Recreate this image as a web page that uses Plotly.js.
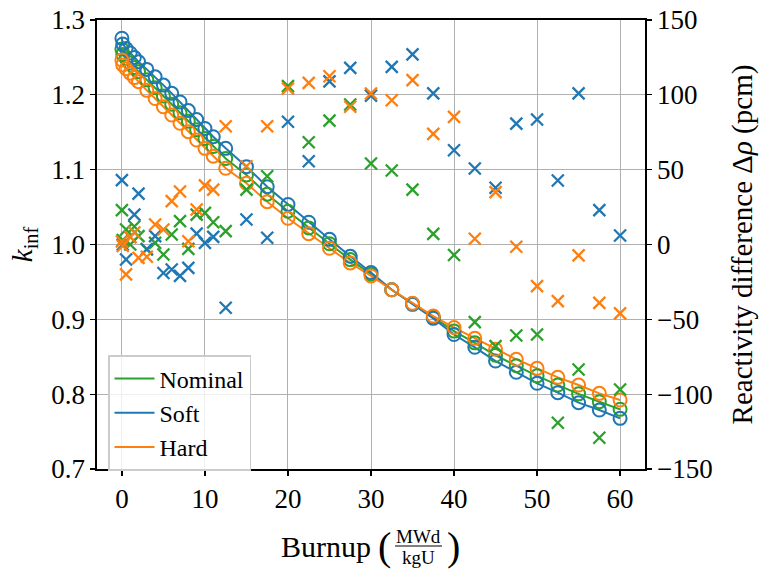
<!DOCTYPE html>
<html>
<head>
<meta charset="utf-8">
<script src="https://cdn.plot.ly/plotly-3.0.1.min.js"></script>
<style>html,body{margin:0;padding:0;background:#fff;}#plot{width:764px;height:569px;}</style>
</head>
<body>
<div id="plot"></div>
<script>
// ---- data ----
const burnup = [0, 0.1, 0.5, 1, 1.5, 2, 3, 4, 5, 6, 7, 8, 9, 10, 11, 12.5, 15, 17.5, 20, 22.5, 25, 27.5, 30, 32.5, 35, 37.5, 40, 42.5, 45, 47.5, 50, 52.5, 55, 57.5, 60];

const kNominal = [1.2612, 1.254, 1.2485, 1.2425, 1.2365, 1.231, 1.220, 1.2095, 1.1985, 1.1875, 1.176, 1.1648, 1.1533, 1.1418, 1.131, 1.115, 1.0929, 1.0672, 1.0445, 1.0222, 1.001, 0.9798, 0.9603, 0.9395, 0.9207, 0.9028, 0.8843, 0.8686, 0.852, 0.838, 0.8245, 0.8122, 0.8004, 0.7899, 0.7797];
const kSoft = [1.2757, 1.268, 1.262, 1.256, 1.250, 1.2443, 1.234, 1.224, 1.213, 1.202, 1.1905, 1.179, 1.167, 1.155, 1.144, 1.1285, 1.104, 1.0772, 1.0535, 1.0298, 1.0069, 0.9842, 0.9625, 0.9395, 0.920, 0.9013, 0.8797, 0.8626, 0.8443, 0.8292, 0.8145, 0.802, 0.7886, 0.7788, 0.7677];
const kHard = [1.2465, 1.240, 1.235, 1.229, 1.223, 1.2176, 1.206, 1.195, 1.184, 1.173, 1.162, 1.1507, 1.1396, 1.1285, 1.118, 1.1018, 1.0818, 1.0572, 1.035, 1.0145, 0.995, 0.9753, 0.958, 0.9395, 0.9214, 0.9044, 0.889, 0.8746, 0.86, 0.8466, 0.8345, 0.8225, 0.8122, 0.8011, 0.7922];

const dNominal = [23, 3, 10, 0, 12, 5.6, -3.3, 1.1, -6.7, 6.7, 15.6, -2.9, 20, 21.1, 14.9, 8.9, 36.7, 45.6, 105.8, 68.3, 82.8, 93.5, 54.1, 49.4, 36.7, 7.1, -7, -51.9, -67.9, -60.8, -60.1, -119.1, -83.5, -129.1, -96.9];
const dSoft = [43, 0, -10, 5, 20, 34, -3, 5.6, -19, -16.7, -21, -15.6, 7.3, 1.1, 5.1, -42.3, 16.7, 4.5, 82, 55.6, 109, 118, 99.5, 118.7, 127, 101, 63, 50.8, 37.9, 80.8, 83.5, 42.8, 101, 23, 6];
const dHard = [2, -1, -20, 5, 8, -8.9, -8.2, 13.4, 10, 29, 35.4, 2.2, 23.4, 39.5, 36.7, 79, 52.3, 79, 104.2, 108, 112.4, 92, 100.9, 96.4, 109.8, 73.9, 85.3, 3.8, 35, -1.5, -27.8, -37.8, -7.3, -39, -46];

const seriesNames = ["Nominal", "Soft", "Hard"];
const seriesColors = ["#2ca02c", "#1f77b4", "#ff7f0e"];
const kData = [kNominal, kSoft, kHard];
const dData = [dNominal, dSoft, dHard];

const xTicks = [0, 10, 20, 30, 40, 50, 60];
const yTicks = [0.7, 0.8, 0.9, 1.0, 1.1, 1.2, 1.3];
const y2Ticks = [-150, -100, -50, 0, 50, 100, 150];

// ---- figure ----
const FONT = "'Liberation Serif', 'Times New Roman', Times, serif";
const traces = [];
for (let i = 0; i < 3; i++) {
  traces.push({
    x: burnup, y: kData[i], type: "scatter", mode: "lines",
    name: seriesNames[i], line: {color: seriesColors[i], width: 2},
    xaxis: "x", yaxis: "y", showlegend: true, hoverinfo: "skip"
  });
}
for (let i = 0; i < 3; i++) {
  traces.push({
    x: burnup, y: kData[i], type: "scatter", mode: "markers",
    name: seriesNames[i], showlegend: false,
    marker: {symbol: "circle-open", size: 13, color: seriesColors[i], line: {width: 2, color: seriesColors[i]}},
    xaxis: "x", yaxis: "y", hoverinfo: "skip"
  });
}
for (let i = 0; i < 3; i++) {
  traces.push({
    x: burnup, y: dData[i], type: "scatter", mode: "markers",
    name: seriesNames[i], showlegend: false,
    marker: {symbol: "x-thin-open", size: 12, color: seriesColors[i], line: {width: 2.3, color: seriesColors[i]}},
    xaxis: "x", yaxis: "y2", hoverinfo: "skip"
  });
}

const pl = 97, pr = 645, pt = 20, pb = 469;
const px = v => (v - pl) / (pr - pl);
const py = v => (pb - v) / (pb - pt);

const layout = {
  width: 764, height: 569,
  margin: {l: pl, r: 764 - pr, t: pt, b: 569 - pb, pad: 0},
  paper_bgcolor: "#fff", plot_bgcolor: "#fff",
  font: {family: FONT, size: 26, color: "#000"},
  showlegend: true,
  legend: {
    x: px(108), y: py(355), xanchor: "left", yanchor: "top",
    bgcolor: "rgba(255,255,255,0.8)", bordercolor: "#cccccc", borderwidth: 1.5,
    font: {family: FONT, size: 24}, tracegroupgap: 0, itemwidth: 40
  },
  xaxis: {
    range: [-3, 63], tickvals: xTicks, ticktext: xTicks.map(String),
    showgrid: true, gridcolor: "#b0b0b0", gridwidth: 1,
    zeroline: false, showline: true, linecolor: "#000", linewidth: 1.6, mirror: true,
    ticks: "outside", ticklen: 5, tickwidth: 1.2, tickcolor: "#000",
    tickfont: {family: FONT, size: 27}
  },
  yaxis: {
    range: [0.7, 1.3], tickvals: yTicks, ticktext: yTicks.map(v => v.toFixed(1)),
    showgrid: true, gridcolor: "#b0b0b0", gridwidth: 1,
    zeroline: false, showline: true, linecolor: "#000", linewidth: 1.6,
    ticks: "outside", ticklen: 5, tickwidth: 1.2, tickcolor: "#000",
    tickfont: {family: FONT, size: 27},
    title: {text: "<i>k</i><sub>inf</sub>", font: {family: FONT, size: 29}, standoff: 10}
  },
  yaxis2: {
    range: [-150, 150], tickvals: y2Ticks, overlaying: "y", side: "right",
    showgrid: false, zeroline: false, showline: true, linecolor: "#000", linewidth: 1.6,
    ticks: "outside", ticklen: 5, tickwidth: 1.2, tickcolor: "#000",
    tickfont: {family: FONT, size: 27},
    title: {text: "Reactivity difference Δ<i>ρ</i> (pcm)", font: {family: FONT, size: 29}, standoff: 20}
  },
  annotations: [
    {xref: "paper", yref: "paper", x: px(373), y: py(546), xanchor: "right", yanchor: "middle", text: "Burnup", showarrow: false, font: {family: FONT, size: 30}},
    {xref: "paper", yref: "paper", x: px(384), y: py(546), xanchor: "center", yanchor: "middle", text: "(", showarrow: false, font: {family: FONT, size: 40}},
    {xref: "paper", yref: "paper", x: px(418), y: py(536), xanchor: "center", yanchor: "middle", text: "MWd", showarrow: false, font: {family: FONT, size: 19}},
    {xref: "paper", yref: "paper", x: px(418), y: py(557), xanchor: "center", yanchor: "middle", text: "kgU", showarrow: false, font: {family: FONT, size: 19}},
    {xref: "paper", yref: "paper", x: px(453), y: py(546), xanchor: "center", yanchor: "middle", text: ")", showarrow: false, font: {family: FONT, size: 40}}
  ],
  shapes: [
    {type: "line", xref: "paper", yref: "paper", x0: px(395), x1: px(442), y0: py(546), y1: py(546), line: {color: "#000", width: 1.2}}
  ]
};

Plotly.newPlot("plot", traces, layout, {staticPlot: true, displayModeBar: false});
</script>
</body>
</html>
